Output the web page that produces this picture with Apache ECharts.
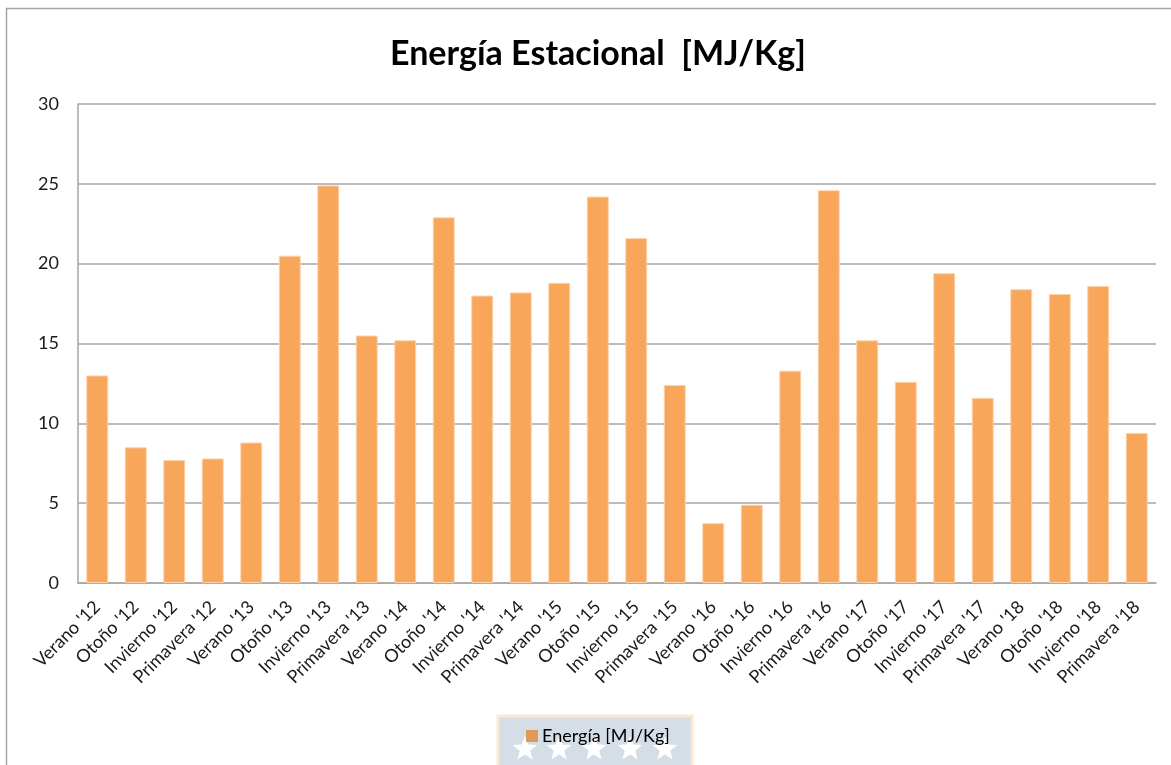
<!DOCTYPE html>
<html>
<head>
<meta charset="utf-8">
<script src="https://cdn.jsdelivr.net/npm/echarts@6/dist/echarts.min.js"></script>
<style>
  html, body { margin: 0; padding: 0; background: #ffffff; }
  #chart { width: 1171px; height: 765px; }
</style>
</head>
<body>
<div id="chart"></div>
<script>
// Seasonal energy per quarter, 2012-2018
const categories = [
  "Verano '12", "Otoño '12", "Invierno '12", "Primavera '12",
  "Verano '13", "Otoño '13", "Invierno '13", "Primavera '13",
  "Verano '14", "Otoño '14", "Invierno '14", "Primavera '14",
  "Verano '15", "Otoño '15", "Invierno '15", "Primavera '15",
  "Verano '16", "Otoño '16", "Invierno '16", "Primavera '16",
  "Verano '17", "Otoño '17", "Invierno '17", "Primavera '17",
  "Verano '18", "Otoño '18", "Invierno '18", "Primavera '18"
];
const energia = [
  13.0, 8.5, 7.7, 7.8,
  8.8, 20.5, 24.9, 15.5,
  15.2, 22.9, 18.0, 18.2,
  18.8, 24.2, 21.6, 12.4,
  3.75, 4.9, 13.3, 24.6,
  15.2, 12.6, 19.4, 11.6,
  18.4, 18.1, 18.6, 9.4
];
const seriesName = 'Energía [MJ/Kg]';
const chartTitle = 'Energía Estacional  [MJ/Kg]';

// five-point star outline centred on (cx, cy)
function starPoints(cx, cy, rOuter, rInner) {
  const pts = [];
  for (let i = 0; i < 10; i++) {
    const r = i % 2 === 0 ? rOuter : rInner;
    const a = -Math.PI / 2 + i * Math.PI / 5;
    pts.push([cx + r * Math.cos(a), cy + r * Math.sin(a)]);
  }
  return pts;
}

const starCentres = [525, 559, 594, 630, 665];
const stars = starCentres.map(x => ({
  type: 'polygon',
  z: 1,
  shape: { points: starPoints(x, 749, 13, 5.5) },
  style: { fill: '#ffffff' }
}));

const chart = echarts.init(document.getElementById('chart'));
chart.setOption({
  animation: false,
  backgroundColor: '#ffffff',
  textStyle: { fontFamily: 'Lato, "Open Sans", sans-serif' },
  title: {
    text: chartTitle,
    left: 385,
    top: 32,
    textStyle: { fontFamily: 'Lato, sans-serif', fontSize: 34, fontWeight: 'bold', color: '#000000' }
  },
  graphic: [
    {
      type: 'rect',
      z: 0,
      shape: { x: 6.5, y: 8.5, width: 1200, height: 800 },
      style: { fill: 'none', stroke: '#a6a6a6', lineWidth: 1.5 }
    },
    {
      type: 'rect',
      z: 0,
      shape: { x: 498, y: 716, width: 194, height: 60 },
      style: { fill: '#d5dde7', stroke: '#fbe8d4', lineWidth: 3 }
    }
  ].concat(stars),
  legend: {
    data: [seriesName],
    left: 521,
    top: 722,
    itemWidth: 12,
    itemHeight: 12,
    itemGap: 6,
    icon: 'rect',
    z: 5,
    itemStyle: { color: '#e09a57', borderWidth: 0 },
    textStyle: { fontFamily: 'Lato, sans-serif', fontSize: 18, color: '#000000', padding: [0, 0, 0, -1] }
  },
  grid: { left: 78, right: 15, top: 104, bottom: 182, containLabel: false },
  xAxis: {
    type: 'category',
    data: categories,
    axisLine: { show: true, lineStyle: { color: '#a6a6a6', width: 1.5 } },
    axisTick: { show: false },
    axisLabel: {
      interval: 0,
      rotate: 45,
      fontSize: 18,
      color: '#1a1a1a',
      margin: 21
    }
  },
  yAxis: {
    type: 'value',
    min: 0,
    max: 30,
    interval: 5,
    axisLine: { show: true, lineStyle: { color: '#a6a6a6', width: 1.5 } },
    axisTick: { show: false },
    splitLine: { show: true, lineStyle: { color: '#a6a6a6', width: 1.5 } },
    axisLabel: { fontSize: 18, color: '#1a1a1a', margin: 19 }
  },
  series: [{
    name: seriesName,
    type: 'bar',
    data: energia,
    barCategoryGap: '43%',
    itemStyle: {
      color: '#f8a65a',
      borderColor: '#fcd2ac',
      borderWidth: 1
    }
  }]
});
</script>
</body>
</html>
